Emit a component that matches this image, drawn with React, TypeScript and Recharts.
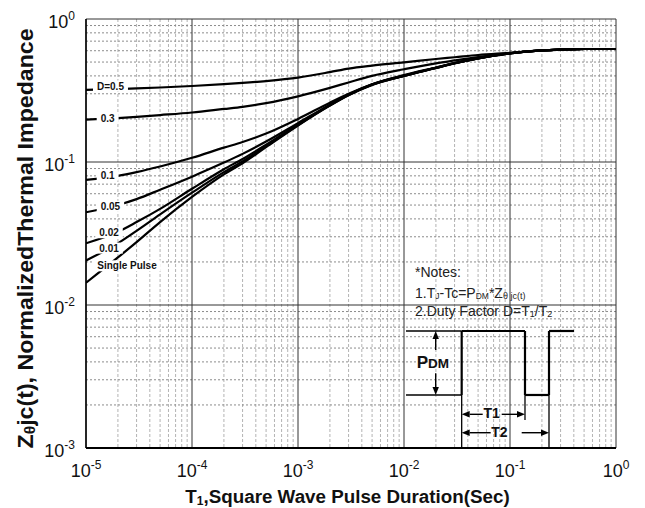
import React from 'react';
import {
  LineChart,
  Line,
  XAxis,
  YAxis,
  CartesianGrid,
  ReferenceLine,
  ReferenceDot,
  Customized,
} from 'recharts';

// ---------------- DATA ----------------
const pulseDuration = [
  1e-5, 2e-5, 3e-5, 5e-5, 1e-4, 2e-4, 3e-4, 5e-4, 1e-3, 2e-3, 3e-3, 5e-3,
  1e-2, 2e-2, 3e-2, 5e-2, 1e-1, 2e-1, 3e-1, 5e-1, 1,
];
const zD05 = [0.319, 0.324, 0.327, 0.332, 0.34, 0.35, 0.357, 0.368, 0.389, 0.425, 0.45, 0.472, 0.497, 0.525, 0.54, 0.56, 0.58, 0.603, 0.611, 0.617, 0.617];
const zD03 = [0.198, 0.203, 0.207, 0.213, 0.222, 0.235, 0.243, 0.258, 0.288, 0.33, 0.36, 0.4, 0.445, 0.49, 0.513, 0.542, 0.577, 0.602, 0.61, 0.617, 0.617];
const zD01 = [0.075, 0.08, 0.085, 0.093, 0.107, 0.126, 0.138, 0.158, 0.2, 0.26, 0.3, 0.35, 0.405, 0.458, 0.492, 0.532, 0.576, 0.603, 0.611, 0.617, 0.617];
const zD005 = [0.0445, 0.05, 0.055, 0.064, 0.079, 0.099, 0.114, 0.139, 0.187, 0.252, 0.296, 0.349, 0.402, 0.456, 0.491, 0.531, 0.576, 0.603, 0.611, 0.617, 0.617];
const zD002 = [0.027, 0.0325, 0.038, 0.047, 0.065, 0.089, 0.105, 0.132, 0.183, 0.25, 0.295, 0.348, 0.401, 0.455, 0.49, 0.53, 0.575, 0.603, 0.611, 0.617, 0.617];
const zD001 = [0.0205, 0.027, 0.033, 0.043, 0.061, 0.085, 0.101, 0.129, 0.181, 0.249, 0.294, 0.347, 0.4, 0.455, 0.49, 0.53, 0.575, 0.603, 0.611, 0.617, 0.617];
const zSingle = [0.0143, 0.0215, 0.0275, 0.038, 0.057, 0.082, 0.098, 0.127, 0.18, 0.248, 0.293, 0.346, 0.4, 0.454, 0.489, 0.53, 0.575, 0.603, 0.611, 0.617, 0.617];

const seriesKeys = ['d05', 'd03', 'd01', 'd005', 'd002', 'd001', 'single'];
const seriesValues = [zD05, zD03, zD01, zD005, zD002, zD001, zSingle];

// curve labels: [text, left x (sec), centre y]
const curveLabels: [string, number, number][] = [
  ['D=0.5', 1.27e-5, 0.34],
  ['0.3', 1.376e-5, 0.201],
  ['0.1', 1.376e-5, 0.0811],
  ['0.05', 1.376e-5, 0.049],
  ['0.02', 1.335e-5, 0.032],
  ['0.01', 1.335e-5, 0.025],
  ['Single Pulse', 1.278e-5, 0.0188],
];

const xTicks = [1e-5, 1e-4, 1e-3, 1e-2, 1e-1, 1];
const yTicks = [1e-3, 1e-2, 1e-1, 1];
const minorMultipliers = [2, 3, 4, 5, 6, 7, 8, 9];
const xDecades = [-5, -4, -3, -2, -1];
const yDecades = [-3, -2, -1];

const data = pulseDuration.map((t, i) => {
  const row: Record<string, number> = { t };
  seriesKeys.forEach((k, j) => (row[k] = seriesValues[j][i]));
  return row;
});

const minorX: number[] = [];
xDecades.forEach((e) => minorMultipliers.forEach((m) => minorX.push(m * Math.pow(10, e))));
const minorY: number[] = [];
yDecades.forEach((e) => minorMultipliers.forEach((m) => minorY.push(m * Math.pow(10, e))));

// ---- annotation (notes + pulse diagram), in data coordinates ----
const T_LEFT = 0.010445;
const T_RISE = 0.03501;
const T_FALL = 0.1385;
const T_RISE2 = 0.2333;
const T_END = 0.4016;
const P_HIGH = 0.00658;
const P_LOW = 0.002348;
const Y_MIN = 1e-3;

const thickSegments: [number, number, number, number][] = [
  [T_RISE, P_HIGH, T_RISE, P_LOW],
  [T_RISE, P_HIGH, T_FALL, P_HIGH],
  [T_FALL, P_HIGH, T_FALL, P_LOW],
  [T_FALL, P_LOW, T_RISE2, P_LOW],
  [T_RISE2, P_LOW, T_RISE2, P_HIGH],
  [T_RISE2, P_HIGH, T_END, P_HIGH],
];
const thinSegments: [number, number, number, number][] = [
  [T_LEFT, P_HIGH, T_RISE, P_HIGH],
  [T_LEFT, P_LOW, T_RISE, P_LOW],
  [T_RISE, P_LOW, T_RISE, Y_MIN],
  [T_FALL, P_LOW, T_FALL, 0.00157],
  [T_RISE2, P_LOW, T_RISE2, Y_MIN],
];
const arrowSegments: [number, number, number, number][] = [
  [0.01991, 0.004845, 0.01991, P_HIGH],
  [0.01991, 0.00333, 0.01991, P_LOW],
  [0.05527, 0.00172, T_RISE, 0.00172],
  [0.0835, 0.00172, T_FALL, 0.00172],
  [0.06574, 0.001279, T_RISE, 0.001279],
  [0.1289, 0.001279, T_RISE2, 0.001279],
];

const FONT = '"Liberation Sans", Arial, Helvetica, sans-serif';

// ---------------- COMPONENTS ----------------
const XTick = (props: any) => {
  const { x, y, payload } = props;
  const e = Math.round(Math.log10(payload.value));
  return (
    <text x={x} y={y + 29} textAnchor="middle" fontFamily={FONT} fontSize={18} fill="#111">
      <tspan>10</tspan>
      <tspan fontSize={12} dy={-8.5}>{String(e)}</tspan>
    </text>
  );
};

const YTick = (props: any) => {
  const { x, y, payload } = props;
  const e = Math.round(Math.log10(payload.value));
  return (
    <text x={x - 11} y={y + 9} textAnchor="end" fontFamily={FONT} fontSize={18} fill="#111">
      <tspan>10</tspan>
      <tspan fontSize={12} dy={-8.5}>{String(e)}</tspan>
    </text>
  );
};

const ArrowShape = (p: any) => {
  const { x1, y1, x2, y2 } = p;
  const ang = Math.atan2(y2 - y1, x2 - x1);
  const L = 8;
  const W = 3.2;
  const bx = x2 - L * Math.cos(ang);
  const by = y2 - L * Math.sin(ang);
  const px = -Math.sin(ang) * W;
  const py = Math.cos(ang) * W;
  return (
    <g>
      <line x1={x1} y1={y1} x2={bx} y2={by} stroke="#000" strokeWidth={1.4} />
      <polygon points={`${x2},${y2} ${bx + px},${by + py} ${bx - px},${by - py}`} fill="#000" />
    </g>
  );
};

const labelWidth = (s: string) => {
  const w: Record<string, number> = { D: 0.722, '=': 0.584, '.': 0.278, S: 0.667, i: 0.278, n: 0.611, g: 0.611, l: 0.278, e: 0.556, ' ': 0.278, P: 0.667, u: 0.611, s: 0.556 };
  let t = 0;
  for (const c of s) t += w[c] ?? 0.556;
  return t * 10;
};

const CurveLabel = (text: string) => (p: any) => {
  const { cx, cy } = p;
  const w = labelWidth(text);
  return (
    <g>
      <rect x={cx - 4} y={cy - 5.5} width={w + 8} height={11} fill="#fff" />
      <text x={cx} y={cy + 3.6} fontFamily={FONT} fontWeight="bold" fontSize={10} fill="#111">
        {text}
      </text>
    </g>
  );
};

const NoteText = (kind: string) => (p: any) => {
  const { cx, cy } = p;
  const common = { fontFamily: FONT, fill: '#222' } as any;
  if (kind === 'title')
    return <text x={cx} y={cy} fontSize={14} {...common}>*Notes:</text>;
  if (kind === 'line1')
    return (
      <text x={cx} y={cy} fontSize={14} {...common}>
        1.T<tspan fontSize={8.5} dy={1}>J</tspan>
        <tspan dy={-1}>-Tc=P</tspan>
        <tspan fontSize={8.5} dy={1}>DM</tspan>
        <tspan dy={-1}>*Z</tspan>
        <tspan fontSize={9} dy={1}>θ jc(t)</tspan>
      </text>
    );
  if (kind === 'line2')
    return (
      <text x={cx} y={cy} fontSize={14} {...common}>
        2.Duty Factor D=T<tspan fontSize={9} dy={1}>1</tspan>
        <tspan dy={-1}>/T</tspan>
        <tspan fontSize={9} dy={1}>2</tspan>
      </text>
    );
  if (kind === 'pdm')
    return (
      <text x={cx} y={cy} fontFamily={FONT} fontWeight="bold" fill="#111" fontSize={17}>
        P<tspan fontSize={13.5}>DM</tspan>
      </text>
    );
  return (
    <text x={cx} y={cy} textAnchor="middle" fontFamily={FONT} fontWeight="bold" fill="#111" fontSize={14}>
      {kind}
    </text>
  );
};

const noteItems: [string, number, number][] = [
  ['title', 0.0127, 0.0157],
  ['line1', 0.0127, 0.01125],
  ['line2', 0.0127, 0.008378],
  ['pdm', 0.01318, 0.003625],
  ['T1', 0.0672, 0.001622],
  ['T2', 0.0796, 0.0011995],
];

const Titles = () => (
  <g fontFamily={FONT} fontWeight="bold" fill="#111">
    <text x={339.5} y={495} textAnchor="middle" fontSize={18.8}>
      T<tspan fontSize={12} dy={2}>1</tspan>
      <tspan dy={-2}>,Square Wave Pulse Duration(Sec)</tspan>
    </text>
    <text
      transform="translate(25,230.5) rotate(-90)"
      textAnchor="middle"
      fontSize={22}
      textLength={420}
      lengthAdjust="spacingAndGlyphs"
    >
      Z<tspan fontSize={15} dy={2}>θ</tspan>
      <tspan dy={-2}>jc(t), NormalizedThermal Impedance</tspan>
    </text>
  </g>
);

export default function App() {
  return (
    <LineChart
      width={637}
      height={500}
      data={data}
      margin={{ top: 11, right: 29, left: 0, bottom: 0 }}
      style={{ background: '#fff' }}
    >
      <CartesianGrid
        horizontal={false}
        verticalValues={minorX}
        stroke="#b4b4b4"
        strokeDasharray="3 2"
      />
      <CartesianGrid
        vertical={false}
        horizontalValues={minorY}
        stroke="#8c8c8c"
        strokeDasharray="2 2"
      />
      <CartesianGrid verticalValues={xTicks} horizontalValues={yTicks} stroke="#333" />
      <XAxis
        dataKey="t"
        type="number"
        scale="log"
        domain={[1e-5, 1]}
        ticks={xTicks}
        interval={0}
        allowDataOverflow
        tick={<XTick />}
        tickLine={false}
        tickSize={0}
        tickMargin={0}
        height={60}
        axisLine={{ stroke: '#000', strokeWidth: 2 }}
      />
      <YAxis
        type="number"
        scale="log"
        domain={[1e-3, 1]}
        ticks={yTicks}
        interval={0}
        allowDataOverflow
        tick={<YTick />}
        tickLine={false}
        tickSize={0}
        tickMargin={0}
        width={78}
        axisLine={{ stroke: '#000', strokeWidth: 1.5 }}
      />
      {seriesKeys.map((k) => (
        <Line
          key={k}
          dataKey={k}
          type="monotone"
          stroke="#000"
          strokeWidth={2.2}
          dot={false}
          activeDot={false}
          isAnimationActive={false}
        />
      ))}
      {curveLabels.map(([txt, x, y]) => (
        <ReferenceDot key={txt} x={x} y={y} r={0} ifOverflow="visible" shape={CurveLabel(txt)} />
      ))}
      {thickSegments.map((s, i) => (
        <ReferenceLine
          key={'tk' + i}
          segment={[{ x: s[0], y: s[1] }, { x: s[2], y: s[3] }]}
          stroke="#000"
          strokeWidth={2.2}
          ifOverflow="visible"
        />
      ))}
      {thinSegments.map((s, i) => (
        <ReferenceLine
          key={'tn' + i}
          segment={[{ x: s[0], y: s[1] }, { x: s[2], y: s[3] }]}
          stroke="#000"
          strokeWidth={1.3}
          ifOverflow="visible"
        />
      ))}
      {arrowSegments.map((s, i) => (
        <ReferenceLine
          key={'ar' + i}
          segment={[{ x: s[0], y: s[1] }, { x: s[2], y: s[3] }]}
          ifOverflow="visible"
          shape={ArrowShape}
        />
      ))}
      {noteItems.map(([kind, x, y]) => (
        <ReferenceDot key={kind} x={x} y={y} r={0} ifOverflow="visible" shape={NoteText(kind)} />
      ))}
      <Customized component={Titles} />
    </LineChart>
  );
}
